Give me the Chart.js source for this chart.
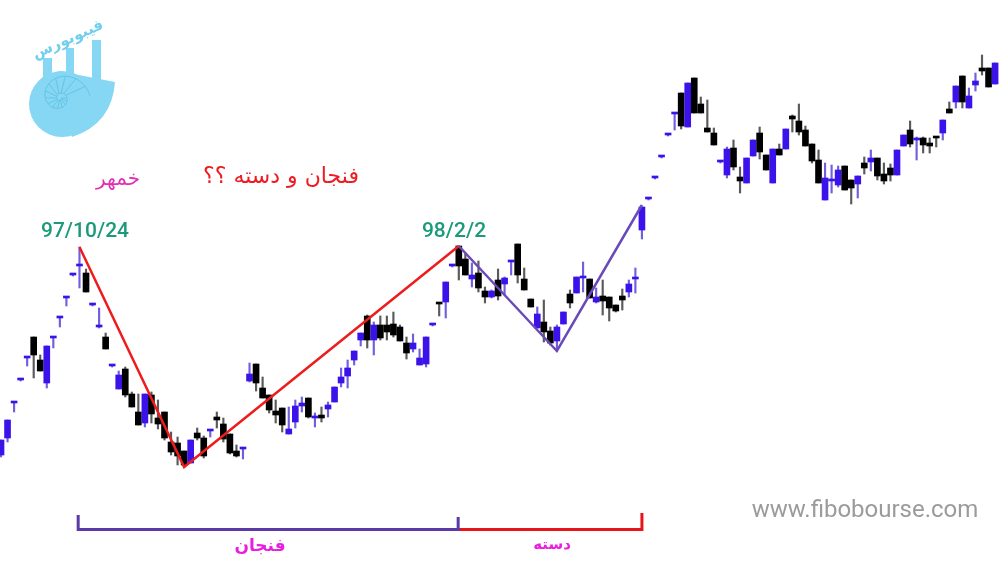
<!DOCTYPE html>
<html>
<head>
<meta charset="utf-8">
<script src="https://cdn.jsdelivr.net/npm/chart.js@4.4.0/dist/chart.umd.min.js"></script>
<style>
  html, body { margin: 0; padding: 0; background: #fff; }
  #chart { display: block; }
</style>
</head>
<body>
<canvas id="chart" width="1000" height="563"></canvas>
<script>
// daily candles, oldest first (price units, no axis shown)
var opens  = [145,162,197,220,242,263,240,217,262,282,302,325,334,327,295,273,263,234,211,231,206,188,177,205,182,188,158,157,149,137,
              167,162,169,183,176,166,149,151,219,236,212,205,189,192,166,178,194,202,182,185,191,198,217,224,240,260,284,260,275,275,
              276,273,257,251,235,236,275,297,298,334,354,341,321,327,309,303,320,316,338,356,321,301,272,278,269,259,276,306,307,322,
              321,298,304,303,295,304,308,321,370,401,422,443,465,486,507,473,522,496,472,467,438,425,452,423,417,444,467,445,417,451,
              451,484,479,470,456,440,400,419,415,434,420,416,437,438,442,426,432,425,454,470,460,462,457,463,467,491,498,524,492,515,
              532,532,516];
var highs  = [160,180,198,221,242,263,245,254,263,283,303,326,353,331,296,292,267,235,229,233,208,206,206,208,200,188,168,163,149,160,
              172,164,170,188,182,166,155,152,237,236,223,205,200,192,193,200,203,202,187,193,198,213,232,240,249,267,285,278,284,284,
              288,275,263,266,251,263,276,297,318,335,354,347,337,339,313,310,331,323,339,356,332,301,293,300,273,275,288,310,323,338,
              321,312,320,303,295,311,320,332,393,402,423,444,466,487,507,517,522,503,500,472,439,453,460,433,442,460,473,445,451,456,
              471,485,496,474,456,450,437,435,434,434,420,424,443,450,442,437,436,450,465,479,463,463,462,463,480,498,514,524,512,527,
              545,532,537];
var lows   = [143,158,188,219,234,222,229,212,252,273,294,324,312,308,294,272,251,233,211,203,193,175,173,177,171,160,145,135,133,137,
              160,142,163,172,158,146,143,141,218,209,202,187,177,168,166,172,188,182,173,178,183,198,213,212,235,254,252,245,260,260,
              263,259,241,248,235,233,274,284,282,333,320,325,313,308,297,302,300,305,325,317,310,293,272,258,255,249,276,292,307,308,
              302,297,285,279,288,290,303,307,361,400,421,442,464,470,471,473,487,487,468,455,437,422,430,407,417,444,441,430,417,445,
              451,468,465,454,437,417,400,407,413,410,396,402,426,429,420,416,419,425,454,453,440,447,447,453,460,487,492,492,492,509,
              525,513,516];
var closes = [160,180,198,220,242,245,229,254,263,283,303,325,335,308,295,274,251,234,225,205,193,175,206,186,176,162,148,144,135,160,
              162,144,170,180,161,147,144,152,226,217,202,190,185,175,171,194,197,183,183,182,195,213,223,232,249,267,260,275,262,268,
              265,259,247,257,242,263,275,296,318,334,334,325,325,312,303,309,304,322,339,325,310,293,286,268,257,273,288,297,323,323,
              302,303,299,292,289,300,316,322,393,401,422,443,465,487,474,517,487,487,468,455,438,451,433,419,442,460,448,430,451,445,
              471,481,468,454,439,417,422,420,430,410,412,424,432,442,424,419,425,450,465,456,461,455,454,462,480,487,514,498,504,519,
              529,513,537];
var days = opens.map(function (v, i) { return i; });

// hand-drawn cup & handle lines (candle index, price)
var cupDays = [12, 28, 70];
var cupPrices = [353, 133, 354];
var handleDays = [70, 85, 98];
var handlePrices = [354, 249, 395];

// brackets under the chart
var cupBracketDays = [11.8, 11.8, 69.9, 69.9];
var cupBracketPrices = [85, 70.5, 70.5, 83];
var handleBracketDays = [69.9, 98, 98];
var handleBracketPrices = [70.5, 70.5, 87];

var UP_BODY = '#3c12ea', UP_WICK = '#7060df', DOWN_BODY = '#000000', DOWN_WICK = '#5a5a5a';

function isUp(i) { return closes[i] >= opens[i]; }

var wickData = days.map(function (d, i) { return { x: d, y: [lows[i], highs[i]] }; });
var bodyData = days.map(function (d, i) {
    return { x: d, y: [Math.min(opens[i], closes[i]), Math.max(opens[i], closes[i])] };
});
function pts(xs, ys) { return xs.map(function (x, i) { return { x: x, y: ys[i] }; }); }

function drawLogo(ctx) {
    ctx.save();
    ctx.fillStyle = '#86d7f3';
    ctx.fillRect(43, 58, 9, 32);
    ctx.fillRect(66, 48, 8, 34);
    ctx.fillRect(92, 40, 9, 44);
    ctx.beginPath();
    ctx.arc(62, 104, 33, 0, Math.PI * 2);
    ctx.fill();
    ctx.beginPath();
    ctx.moveTo(58, 71);
    ctx.lineTo(115, 82);
    ctx.quadraticCurveTo(112, 124, 72, 137);
    ctx.lineTo(62, 104);
    ctx.closePath();
    ctx.fill();
    // spiral chambers
    ctx.strokeStyle = '#5cbfe4';
    ctx.lineWidth = 0.8;
    var cx = 60, cy = 98;
    function r(t) { return 1.6 * Math.exp(0.235 * t); }
    ctx.beginPath();
    for (var t = 0; t <= 4 * Math.PI; t += 0.1) {
        var px = cx + r(t) * Math.cos(t), py = cy + r(t) * Math.sin(t);
        if (t === 0) ctx.moveTo(px, py); else ctx.lineTo(px, py);
    }
    ctx.stroke();
    for (var k = 0; k < 14; k++) {
        var a = 2 * Math.PI + k * 0.45;
        ctx.beginPath();
        ctx.moveTo(cx + r(a - 2 * Math.PI) * Math.cos(a), cy + r(a - 2 * Math.PI) * Math.sin(a));
        ctx.lineTo(cx + r(a) * Math.cos(a), cy + r(a) * Math.sin(a));
        ctx.stroke();
    }
    ctx.translate(68, 40);
    ctx.rotate(-0.42);
    ctx.fillStyle = '#6fcfee';
    ctx.font = 'bold 15px "DejaVu Sans"';
    ctx.textAlign = 'center';
    ctx.textBaseline = 'middle';
    ctx.direction = 'rtl';
    ctx.fillText('فیبوبورس', 0, 0);
    ctx.restore();
}

var textPlugin = {
    id: 'notes',
    afterDraw: function (chart) {
        var ctx = chart.ctx;
        drawLogo(ctx);
        ctx.save();
        ctx.textAlign = 'center';
        ctx.textBaseline = 'middle';
        ctx.direction = 'rtl';
        ctx.fillStyle = '#e22fb6';
        ctx.font = '20px "DejaVu Sans"';
        ctx.fillText('خمهر', 118, 180);
        ctx.fillStyle = '#ee1b22';
        ctx.font = '22px "DejaVu Sans"';
        ctx.fillText('فنجان و دسته ؟؟', 281, 177);
        ctx.fillStyle = '#ea1ee0';
        ctx.font = 'bold 17px "DejaVu Sans"';
        ctx.fillText('فنجان', 260, 547);
        ctx.font = 'bold 15px "DejaVu Sans"';
        ctx.fillText('دسته', 552, 545);
        ctx.direction = 'ltr';
        ctx.fillStyle = '#1b9a7b';
        ctx.font = '500 21px Roboto';
        ctx.fillText('97/10/24', 85, 232);
        ctx.fillText('98/2/2', 454, 232);
        ctx.fillStyle = '#9b9b9b';
        ctx.font = '24px Roboto';
        ctx.fillText('www.fibobourse.com', 865, 511);
        ctx.restore();
    }
};

new Chart(document.getElementById('chart'), {
    data: {
        datasets: [
            { type: 'line', data: pts(cupDays, cupPrices), borderColor: '#ee1c1c', borderWidth: 2.5, pointRadius: 0, order: 0 },
            { type: 'line', data: pts(handleDays, handlePrices), borderColor: '#6a4ab8', borderWidth: 2.5, pointRadius: 0, order: 0 },
            { type: 'line', data: pts(cupBracketDays, cupBracketPrices), borderColor: '#5b3aa8', borderWidth: 3, pointRadius: 0, order: 0 },
            { type: 'line', data: pts(handleBracketDays, handleBracketPrices), borderColor: '#e8141c', borderWidth: 3, pointRadius: 0, order: 0 },
            {
                type: 'bar', data: bodyData, order: 1, grouped: false, barThickness: 6, minBarLength: 2,
                backgroundColor: days.map(function (d, i) { return isUp(i) ? UP_BODY : DOWN_BODY; })
            },
            {
                type: 'bar', data: wickData, order: 2, grouped: false, barThickness: 1.5, minBarLength: 1,
                backgroundColor: days.map(function (d, i) { return isUp(i) ? UP_WICK : DOWN_WICK; })
            }
        ]
    },
    options: {
        responsive: false,
        animation: false,
        layout: { padding: 0 },
        plugins: { legend: { display: false }, tooltip: { enabled: false } },
        scales: {
            x: { type: 'linear', min: -0.153, max: 152.75, display: false, offset: false },
            y: { type: 'linear', min: 37, max: 600, display: false }
        }
    },
    plugins: [textPlugin]
});
</script>
</body>
</html>
